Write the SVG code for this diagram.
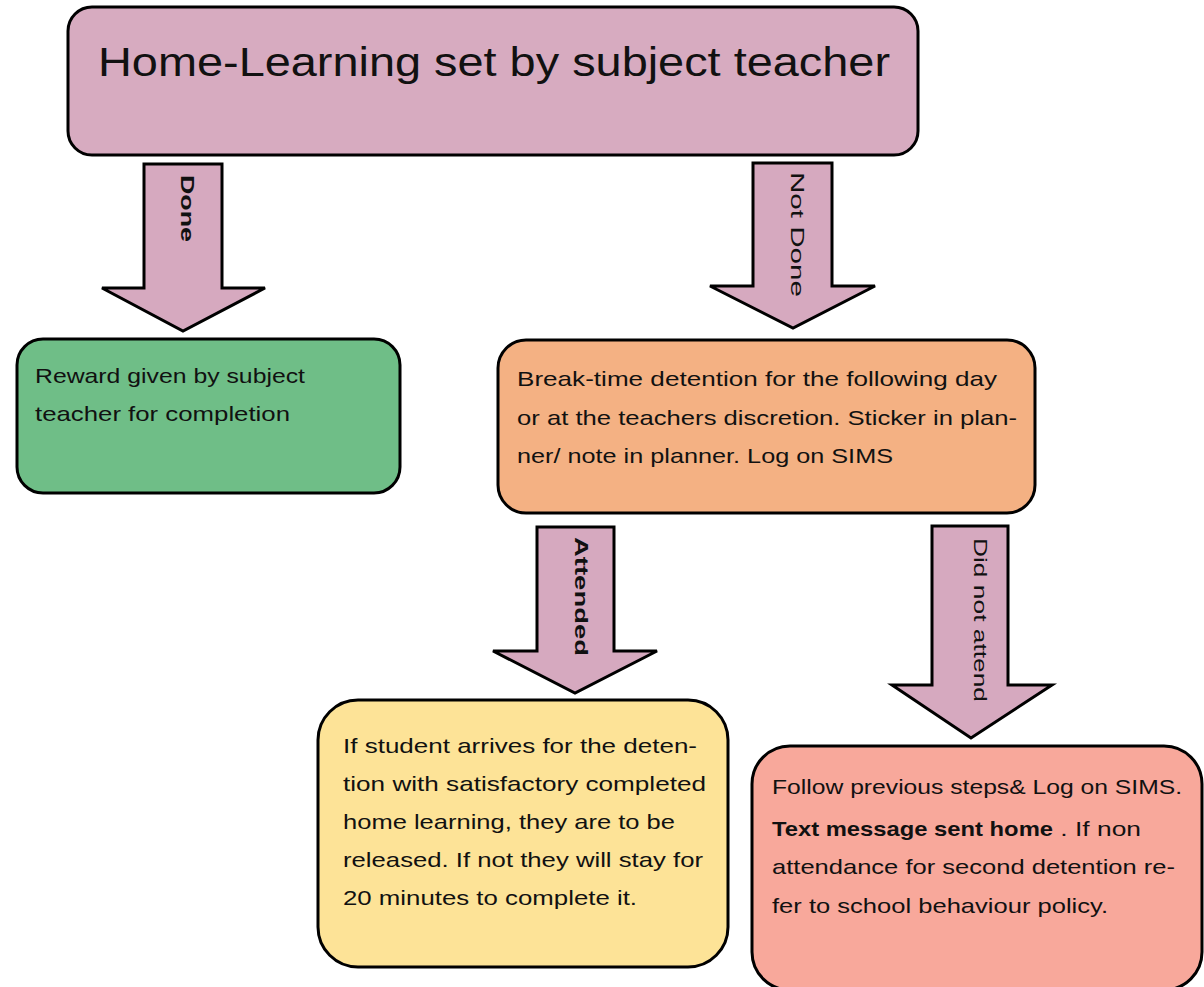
<svg xmlns="http://www.w3.org/2000/svg" width="1204" height="987" viewBox="0 0 1204 987">
<style>
.box{stroke:#000;stroke-width:3}
.arrow{fill:#d6a9bf;stroke:#000;stroke-width:3;stroke-linejoin:miter}
text{font-family:"Liberation Sans",Arial,sans-serif;fill:#111}
.t{font-size:21px}
.lbl{font-size:19px;dominant-baseline:central}
.b{font-weight:bold}
</style>
<rect width="1204" height="987" fill="#fff"/>
<g id="connectors">
  <g id="arrow-done">
    <polygon class="arrow" points="144,164 222,164 222,288 265,288 183,331 102,288 144,288"/>
    <text class="lbl b" transform="translate(187,175) rotate(90)" textLength="67" lengthAdjust="spacingAndGlyphs">Done</text>
  </g>
  <g id="arrow-notdone">
    <polygon class="arrow" points="753,163 832,163 832,286 875,286 793,328 710,286 753,286"/>
    <text class="lbl" transform="translate(797,172) rotate(90)" textLength="125" lengthAdjust="spacingAndGlyphs">Not Done</text>
  </g>
  <g id="arrow-attended">
    <polygon class="arrow" points="537,527 614,527 614,651 657,651 575,693 493,651 537,651"/>
    <text class="lbl b" transform="translate(581,537) rotate(90)" textLength="119" lengthAdjust="spacingAndGlyphs">Attended</text>
  </g>
  <g id="arrow-didnotattend">
    <polygon class="arrow" points="932,526 1008,526 1008,685 1052,685 971,738 892,685 932,685"/>
    <text class="lbl" transform="translate(980,538) rotate(90)" textLength="164" lengthAdjust="spacingAndGlyphs">Did not attend</text>
  </g>
</g>
<g id="node-top">
  <rect class="box" x="68" y="7" width="850" height="148" rx="24" fill="#d7abc0"/>
  <text x="98" y="76" font-size="41" textLength="792" lengthAdjust="spacingAndGlyphs">Home-Learning set by subject teacher</text>
</g>
<g id="node-reward">
  <rect class="box" x="17" y="339" width="383" height="154" rx="26" fill="#6fbe87"/>
  <text class="t" x="35" y="383" textLength="270" lengthAdjust="spacingAndGlyphs">Reward given by subject</text>
  <text class="t" x="35" y="421" textLength="255" lengthAdjust="spacingAndGlyphs">teacher for completion</text>
</g>
<g id="node-detention">
  <rect class="box" x="498" y="340" width="537" height="173" rx="28" fill="#f4b183"/>
  <text class="t" x="517" y="386" textLength="480" lengthAdjust="spacingAndGlyphs">Break-time detention for the following day</text>
  <text class="t" x="517" y="425" textLength="500" lengthAdjust="spacingAndGlyphs">or at the teachers discretion. Sticker in plan-</text>
  <text class="t" x="517" y="463" textLength="376" lengthAdjust="spacingAndGlyphs">ner/ note in planner. Log on SIMS</text>
</g>
<g id="node-attended">
  <rect class="box" x="318" y="700" width="410" height="267" rx="40" fill="#fde397"/>
  <text class="t" x="343" y="753" textLength="354" lengthAdjust="spacingAndGlyphs">If student arrives for the deten-</text>
  <text class="t" x="343" y="791" textLength="363" lengthAdjust="spacingAndGlyphs">tion with satisfactory completed</text>
  <text class="t" x="343" y="829" textLength="332" lengthAdjust="spacingAndGlyphs">home learning, they are to be</text>
  <text class="t" x="343" y="867" textLength="360" lengthAdjust="spacingAndGlyphs">released. If not they will stay for</text>
  <text class="t" x="343" y="905" textLength="294" lengthAdjust="spacingAndGlyphs">20 minutes to complete it.</text>
</g>
<g id="node-notattended">
  <rect class="box" x="752" y="746" width="450" height="244" rx="38" fill="#f8a89b"/>
  <text class="t" x="772" y="794" textLength="410" lengthAdjust="spacingAndGlyphs">Follow previous steps&amp; Log on SIMS.</text>
  <text class="t" x="772" y="836"><tspan class="b" textLength="281" lengthAdjust="spacingAndGlyphs">Text message sent home</tspan><tspan x="1053" textLength="88" lengthAdjust="spacingAndGlyphs"> . If non</tspan></text>
  <text class="t" x="772" y="874" textLength="403" lengthAdjust="spacingAndGlyphs">attendance for second detention re-</text>
  <text class="t" x="772" y="913" textLength="336" lengthAdjust="spacingAndGlyphs">fer to school behaviour policy.</text>
</g>
</svg>
